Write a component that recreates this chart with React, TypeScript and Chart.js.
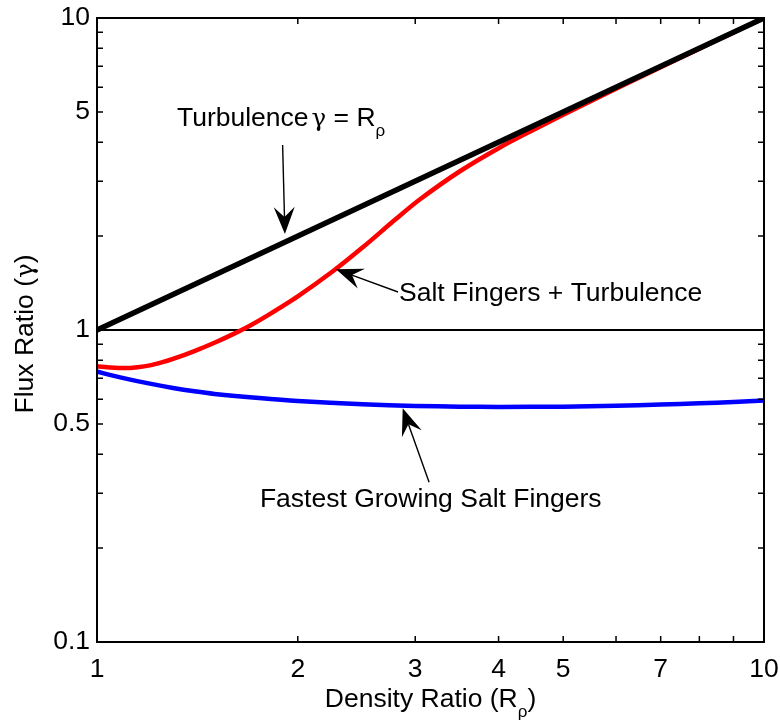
import React, { useEffect, useRef } from "react";
import { Chart, registerables } from "chart.js";

Chart.register(...registerables);

// ---- data ----
const densityRatio = [1, 1.05, 1.1, 1.15, 1.2, 1.25, 1.3, 1.4, 1.5, 1.6, 1.7, 1.8, 2.0, 2.26, 2.5, 2.8, 3.05, 3.5, 4, 4.5, 5, 6, 7, 8, 9, 10];
const saltFingersTurbulence = [0.765, 0.758, 0.755, 0.760, 0.770, 0.787, 0.808, 0.856, 0.910, 0.970, 1.036, 1.112, 1.282, 1.545, 1.837, 2.259, 2.624, 3.227, 3.826, 4.369, 4.898, 5.934, 6.959, 7.976, 8.987, 10];

const fastestX = [1, 1.1, 1.2, 1.3, 1.4, 1.5, 1.75, 2, 2.5, 3, 3.5, 4, 5, 6, 7, 8, 9, 10];
const fastestGrowing = [0.735, 0.700, 0.673, 0.652, 0.636, 0.624, 0.605, 0.592, 0.578, 0.571, 0.568, 0.567, 0.568, 0.572, 0.577, 0.582, 0.588, 0.594];

const turbulenceX = [1, 10];
const turbulenceY = [1, 10];

const unityX = [1, 10];
const unityY = [1, 1];

const xTickValues = [1, 2, 3, 4, 5, 6, 7, 8, 9, 10];
const xTickLabels = ["1", "2", "3", "4", "5", "", "7", "", "", "10"];
const yTickValues = [0.1, 0.2, 0.3, 0.4, 0.5, 0.6, 0.7, 0.8, 0.9, 1, 2, 3, 4, 5, 6, 7, 8, 9, 10];
const yTickLabels = ["0.1", "", "", "", "0.5", "", "", "", "", "1", "", "", "", "5", "", "", "", "", "10"];

// annotation anchors in data units
const notes = [
  {
    parts: [{ t: "Turbulence" }, { t: "γ", greek: true, pre: 3 }, { t: " = R" }, { t: "ρ", sub: true }],
    tx: 1.318, ty: 4.51, from: [1.898, 3.92], to: [1.913, 2.03],
  },
  {
    parts: [{ t: "Salt Fingers + Turbulence" }],
    tx: 2.837, ty: 1.239, from: [2.827, 1.324], to: [2.282, 1.566],
  },
  {
    parts: [{ t: "Fastest Growing Salt Fingers" }],
    tx: 1.755, ty: 0.2704, from: [3.147, 0.3253], to: [2.873, 0.561],
  },
];

const FONT = "'Liberation Sans', Arial, Helvetica, sans-serif";
const GREEK = "'DejaVu Serif', 'Liberation Serif', serif";
const TXT = 26.5;
const SUB = 17;

type Part = { t: string; sub?: boolean; greek?: boolean; pre?: number };

function setFont(ctx: CanvasRenderingContext2D, p: Part) {
  const size = p.sub ? SUB : TXT;
  ctx.font = `${p.greek ? size - 2 : size}px ${p.greek ? GREEK : FONT}`;
}

function drawParts(ctx: CanvasRenderingContext2D, parts: Part[], x: number, y: number, center: boolean) {
  let total = 0;
  for (const p of parts) {
    setFont(ctx, p);
    total += ctx.measureText(p.t).width + (p.pre || 0);
  }
  let cx = center ? x - total / 2 : x;
  ctx.textAlign = "left";
  ctx.textBaseline = "alphabetic";
  for (const p of parts) {
    setFont(ctx, p);
    cx += p.pre || 0;
    ctx.fillText(p.t, cx, y + (p.sub ? 10 : 0));
    cx += ctx.measureText(p.t).width;
  }
}

function drawArrow(ctx: CanvasRenderingContext2D, x0: number, y0: number, x1: number, y1: number) {
  const ang = Math.atan2(y1 - y0, x1 - x0);
  const c = Math.cos(ang), s = Math.sin(ang);
  const L = 27, W = 10.5, N = 0.63 * L;
  const nx = x1 - N * c, ny = y1 - N * s;
  ctx.beginPath();
  ctx.moveTo(x0, y0);
  ctx.lineTo(nx, ny);
  ctx.lineWidth = 1.4;
  ctx.stroke();
  ctx.beginPath();
  ctx.moveTo(x1, y1);
  ctx.lineTo(x1 - L * c - W * s, y1 - L * s + W * c);
  ctx.lineTo(nx, ny);
  ctx.lineTo(x1 - L * c + W * s, y1 - L * s - W * c);
  ctx.closePath();
  ctx.fill();
}

const framePlugin = {
  id: "frame",
  afterDatasetsDraw(chart: any) {
    const { ctx, chartArea, scales } = chart;
    const { left, right, top, bottom } = chartArea;
    const xs = scales.x, ys = scales.y;
    ctx.save();
    ctx.strokeStyle = "#000";
    ctx.fillStyle = "#000";
    ctx.lineWidth = 1.5;
    const T = 6;
    ctx.beginPath();
    for (const v of xTickValues) {
      const px = xs.getPixelForValue(v);
      ctx.moveTo(px, bottom); ctx.lineTo(px, bottom - T);
      ctx.moveTo(px, top); ctx.lineTo(px, top + T);
    }
    for (const v of yTickValues) {
      const py = ys.getPixelForValue(v);
      ctx.moveTo(left, py); ctx.lineTo(left + T, py);
      ctx.moveTo(right, py); ctx.lineTo(right - T, py);
    }
    ctx.stroke();
    ctx.lineWidth = 2;
    ctx.strokeRect(left, top, right - left, bottom - top);

    for (const n of notes) {
      drawParts(ctx, n.parts, xs.getPixelForValue(n.tx), ys.getPixelForValue(n.ty), false);
      drawArrow(ctx,
        xs.getPixelForValue(n.from[0]), ys.getPixelForValue(n.from[1]),
        xs.getPixelForValue(n.to[0]), ys.getPixelForValue(n.to[1]));
    }

    // axis titles
    drawParts(ctx, [{ t: "Density Ratio (R" }, { t: "ρ", sub: true }, { t: ")" }], (left + right) / 2, bottom + 65, true);
    ctx.save();
    ctx.translate(33, (top + bottom) / 2 + 4);
    ctx.rotate(-Math.PI / 2);
    drawParts(ctx, [{ t: "Flux Ratio (" }, { t: "γ", greek: true }, { t: ")" }], 0, 0, true);
    ctx.restore();
    ctx.restore();
  },
};

export default function App() {
  const ref = useRef<HTMLCanvasElement>(null);
  useEffect(() => {
    document.body.style.margin = "0";
    const pts = (xs: number[], ys: number[]) => xs.map((x, i) => ({ x, y: ys[i] }));
    const chart = new Chart(ref.current as HTMLCanvasElement, {
      type: "line",
      data: {
        datasets: [
          { data: pts(turbulenceX, turbulenceY), borderColor: "#000", borderWidth: 5.5, tension: 0 },
          { data: pts(densityRatio, saltFingersTurbulence), borderColor: "#ff0000", borderWidth: 4.5, tension: 0.3 },
          { data: pts(fastestX, fastestGrowing), borderColor: "#0000ff", borderWidth: 4.5, tension: 0.3 },
          { data: pts(unityX, unityY), borderColor: "#000", borderWidth: 2, tension: 0 },
        ],
      } as any,
      options: {
        animation: false,
        responsive: false,
        layout: { padding: { top: 18, right: 16, left: 0, bottom: 0 } },
        elements: { point: { radius: 0 }, line: { fill: false } },
        plugins: { legend: { display: false }, tooltip: { enabled: false } },
        scales: {
          x: {
            type: "logarithmic",
            min: 1,
            max: 10,
            grid: { display: false, drawTicks: false },
            border: { display: false },
            afterBuildTicks: (s: any) => { s.ticks = xTickValues.map((v) => ({ value: v })); },
            afterFit: (s: any) => { s.height = 79; s.paddingLeft = 0; s.paddingRight = 0; },
            ticks: {
              autoSkip: false,
              maxRotation: 0,
              padding: 12,
              color: "#000",
              font: { family: FONT, size: TXT },
              callback: (_v: any, i: number) => xTickLabels[i],
            },
          },
          y: {
            type: "logarithmic",
            min: 0.1,
            max: 10,
            grid: { display: false, drawTicks: false },
            border: { display: false },
            afterBuildTicks: (s: any) => { s.ticks = yTickValues.map((v) => ({ value: v })); },
            afterFit: (s: any) => { s.width = 97; s.paddingTop = 0; s.paddingBottom = 0; },
            ticks: {
              autoSkip: false,
              padding: 7,
              color: "#000",
              font: { family: FONT, size: TXT },
              callback: (_v: any, i: number) => yTickLabels[i],
            },
          },
        },
      } as any,
      plugins: [framePlugin],
    });
    return () => chart.destroy();
  }, []);
  return (
    <div style={{ width: 780, height: 721, background: "#fff" }}>
      <canvas ref={ref} width={780} height={721} style={{ display: "block" }} />
    </div>
  );
}
